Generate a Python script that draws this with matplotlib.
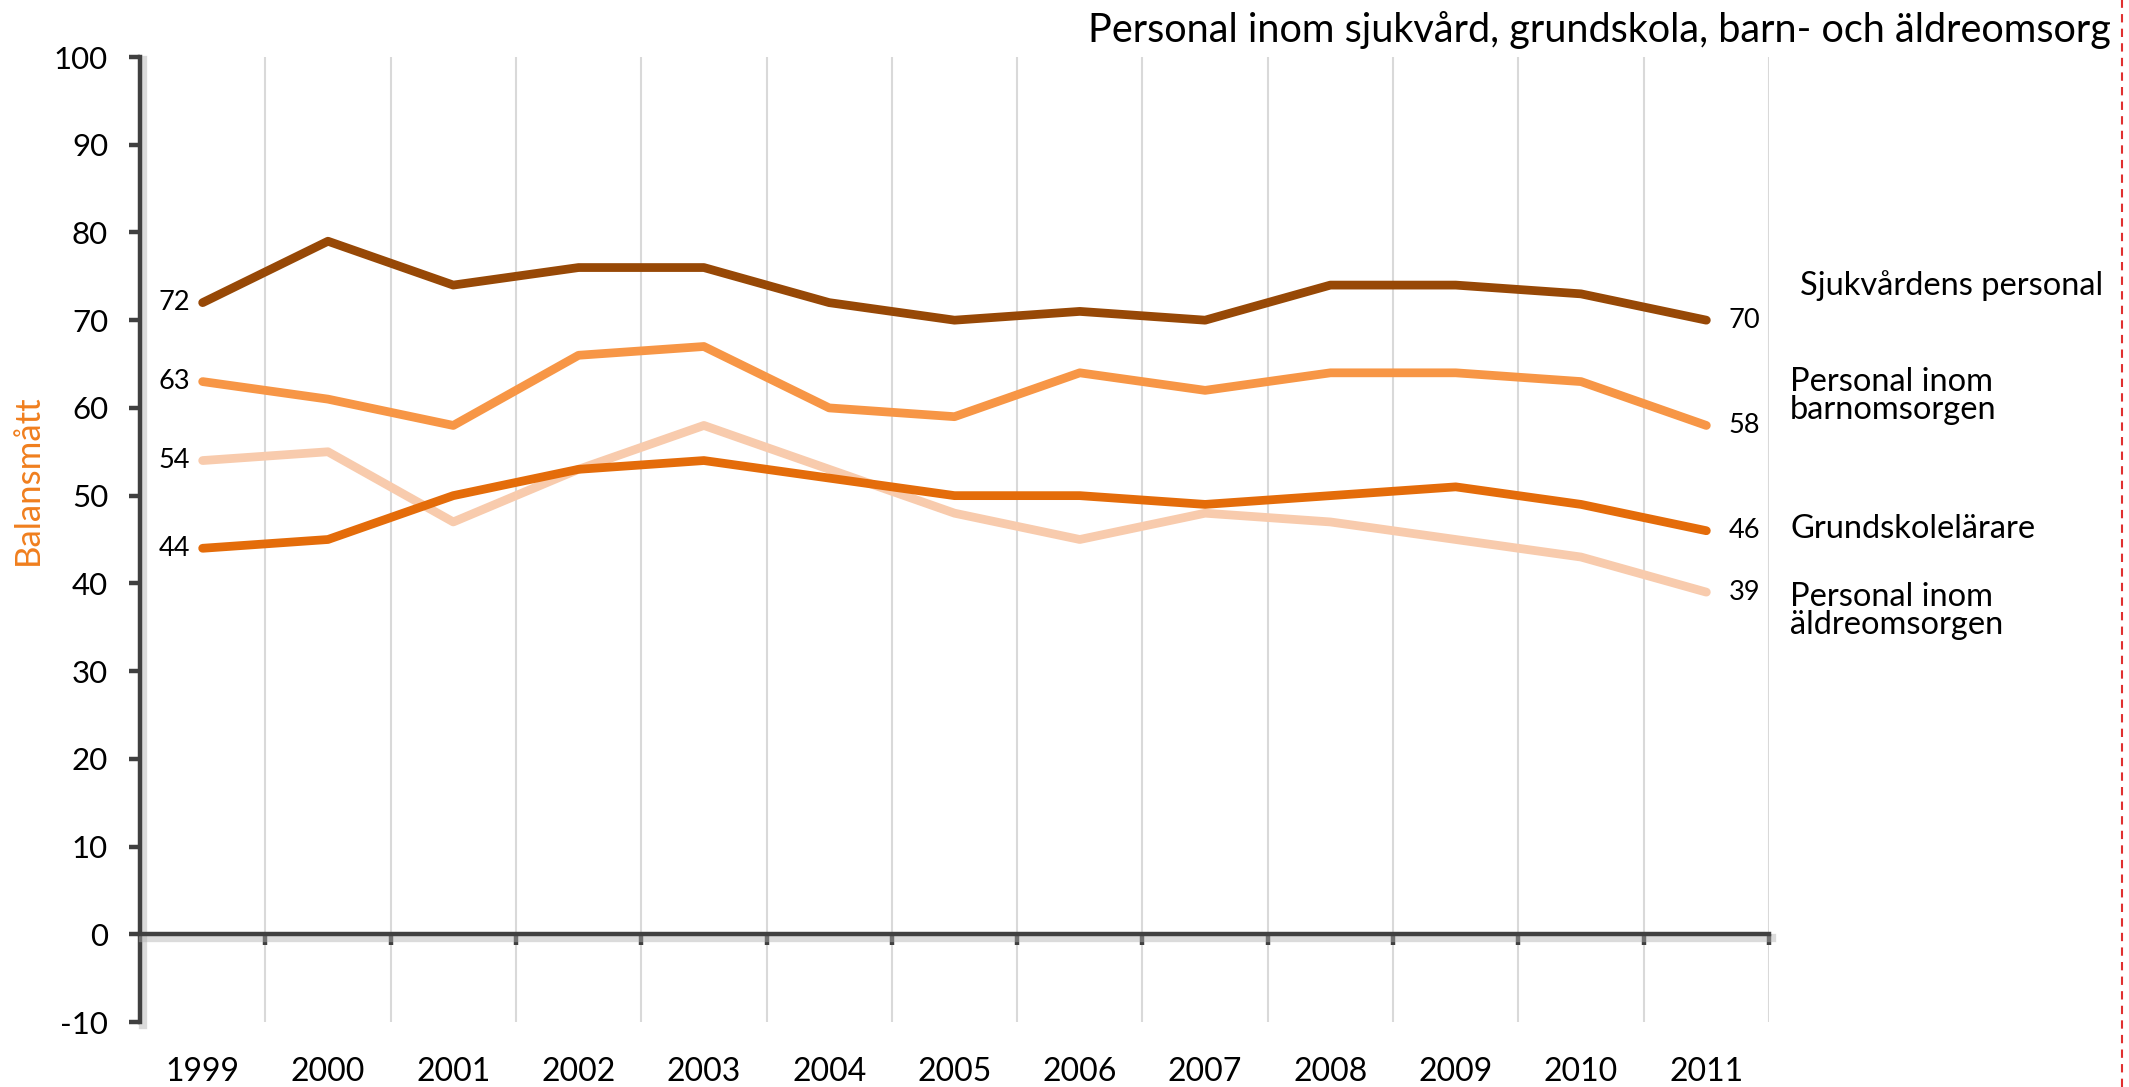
import matplotlib
matplotlib.use("Agg")
import matplotlib.pyplot as plt
import matplotlib.patheffects as pe
from matplotlib.lines import Line2D
import matplotlib.transforms as mtransforms

years = ["1999", "2000", "2001", "2002", "2003", "2004", "2005",
         "2006", "2007", "2008", "2009", "2010", "2011"]
sjukvard = [72, 79, 74, 76, 76, 72, 70, 71, 70, 74, 74, 73, 70]
barnomsorg = [63, 61, 58, 66, 67, 60, 59, 64, 62, 64, 64, 63, 58]
grundskola = [44, 45, 50, 53, 54, 52, 50, 50, 49, 50, 51, 49, 46]
aldreomsorg = [54, 55, 47, 53, 58, 53, 48, 45, 48, 47, 45, 43, 39]
series_names = ["Sjukvårdens personal", "Personal inom\nbarnomsorgen",
                "Grundskolelärare", "Personal inom\näldreomsorgen"]
yticks = [-10, 0, 10, 20, 30, 40, 50, 60, 70, 80, 90, 100]
title = "Personal inom sjukvård, grundskola, barn- och äldreomsorg"
ylabel = "Balansmått"

colors = ["#974806", "#F79646", "#E46C0A", "#F8CBAD"]
FONT = ["Lato", "DejaVu Sans"]
plt.rcParams["font.family"] = FONT

fig = plt.figure(figsize=(21.29, 10.87), dpi=100)
ax = fig.add_axes([140 / 2129, 1 - 1022 / 1087, (1769 - 140) / 2129, (1022 - 57) / 1087])

n = len(years)
x = list(range(n))
ax.set_xlim(-0.5, n - 0.5)
ax.set_ylim(-10, 100)

# vertical gridlines at category boundaries
for b in range(1, n + 1):
    ax.axvline(b - 0.5, color="#D9D9D9", lw=1.5, zorder=0)

all_series = [sjukvard, barnomsorg, grundskola, aldreomsorg]
for vals, c in zip([aldreomsorg, grundskola, barnomsorg, sjukvard],
                   [colors[3], colors[2], colors[1], colors[0]]):
    ax.plot(x, vals, color=c, lw=6.3, solid_capstyle="round", solid_joinstyle="round", zorder=3)

# data labels
for vals in all_series:
    ax.annotate(str(vals[0]), (x[0], vals[0]), xytext=(-9, 0), textcoords="offset points",
                ha="right", va="center", fontsize=19.5, color="black")
    ax.annotate(str(vals[-1]), (x[-1], vals[-1]), xytext=(16, 0), textcoords="offset points",
                ha="left", va="center", fontsize=19.5, color="black")

# series names on the right
trans_lab = mtransforms.blended_transform_factory(fig.transFigure, ax.transData)
name_pos = [(1800 / 2129, 73.9), (1790 / 2129, 61.4), (1790 / 2129, 46.2), (1790 / 2129, 36.9)]
for name, (fx, fy) in zip(series_names, name_pos):
    ax.text(fx, fy, name, transform=trans_lab, ha="left", va="center", fontsize=23.5,
            linespacing=0.92, clip_on=False)

# spines
for s in ["top", "right"]:
    ax.spines[s].set_visible(False)
ax.spines["bottom"].set_position(("data", 0))
shadow = [pe.SimpleLineShadow(offset=(2.5, -2.5), shadow_color="#b0b0b0", alpha=0.45, linewidth=6),
          pe.Normal()]
for s in ["left", "bottom"]:
    ax.spines[s].set_color("#404040")
    ax.spines[s].set_linewidth(3.2)
    ax.spines[s].set_path_effects(shadow)

ax.set_yticks(yticks)
ax.set_yticklabels([str(v) for v in yticks])
ax.set_xticks([b - 0.5 for b in range(1, n + 1)])
ax.set_xticklabels([])
ax.tick_params(axis="both", length=8, width=3.2, color="#404040", direction="out")
ax.tick_params(axis="y", labelsize=22.5, pad=15)

# year labels at the bottom
for i, yr in enumerate(years):
    ax.annotate(yr, (i, -10), xytext=(0, -36), textcoords="offset points",
                ha="center", va="center", fontsize=23, annotation_clip=False)

fig.text(28 / 2129, 1 - 480 / 1087, ylabel, rotation=90, ha="center", va="center",
         fontsize=25, color="#F07F1E")
fig.text(2111 / 2129, 1 - 30 / 1087, title, ha="right", va="center", fontsize=28.5)

fig.add_artist(Line2D([2122 / 2129, 2122 / 2129], [0, 1], transform=fig.transFigure,
                      color="#E03030", lw=1.5, ls=(0, (4, 3))))

fig.savefig("out.png", dpi=100)
